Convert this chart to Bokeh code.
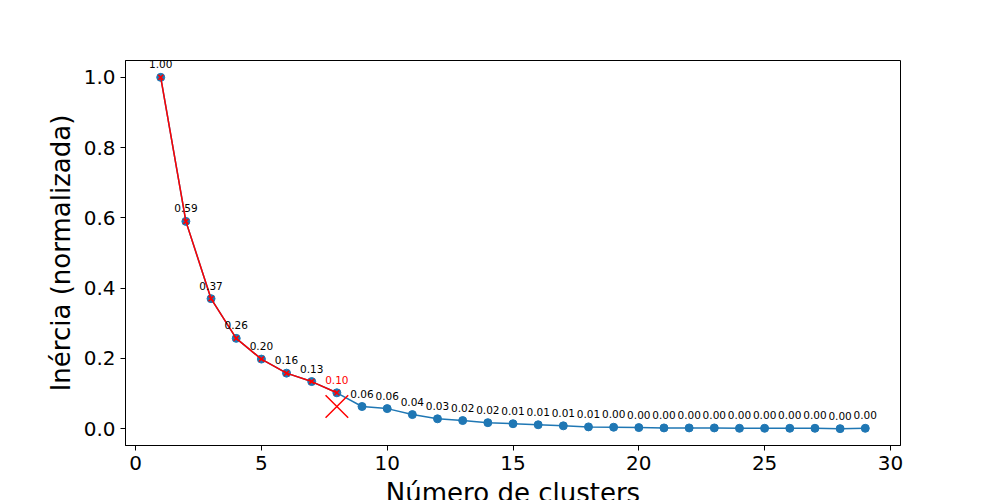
from bokeh.core.properties import value
from bokeh.embed import file_html
from bokeh.models import ColumnDataSource, Range1d, FixedTicker, PrintfTickFormatter
from bokeh.plotting import figure
from bokeh.resources import INLINE

# number of clusters and normalised inertia
clusters = list(range(1, 30))
inertia = [1.00, 0.59, 0.37, 0.257, 0.198, 0.158, 0.134, 0.102, 0.063, 0.057,
           0.040, 0.028, 0.023, 0.017, 0.014, 0.011, 0.008, 0.005, 0.004, 0.003,
           0.002, 0.002, 0.002, 0.001, 0.001, 0.001, 0.001, 0.000, 0.001]
elbow = 8

labels = [f"{v:.2f}" for v in inertia]
label_colors = ["red" if k == elbow else "black" for k in clusters]

p = figure(width=1000, height=515, output_backend="svg", toolbar_location=None,
           x_range=Range1d(-0.4, 30.4), y_range=Range1d(-0.048, 1.048),
           min_border_left=125, min_border_right=100, min_border_top=60,
           min_border_bottom=70)
p.background_fill_color = "white"
p.grid.visible = False
p.outline_line_color = "black"

# full curve
p.line(clusters, inertia, line_color="#1f77b4", line_width=1.5)
p.scatter(clusters, inertia, size=8, fill_color="#1f77b4", line_color="#1f77b4")

# curve up to the elbow
p.line(clusters[:elbow], inertia[:elbow], line_color="red", line_width=1.5)
p.scatter(clusters[:elbow], inertia[:elbow], marker="x", size=7, line_color="red", line_width=1.5)

# elbow marker
p.scatter([elbow], [inertia[elbow]], marker="x", size=32, line_color="red", line_width=1.5)

src = ColumnDataSource(dict(x=clusters, y=inertia, t=labels, c=label_colors))
p.text(x="x", y="y", text="t", source=src, text_color="c", y_offset=-9,
       text_align="center", text_baseline="bottom", text_font_size="10.5px",
       text_font=value("DejaVu Sans"))

p.xaxis.axis_label = "Número de clusters"
p.yaxis.axis_label = "Inércia (normalizada)"
p.xaxis.ticker = FixedTicker(ticks=[0, 5, 10, 15, 20, 25, 30])
p.yaxis.ticker = FixedTicker(ticks=[0.0, 0.2, 0.4, 0.6, 0.8, 1.0])
p.yaxis.formatter = PrintfTickFormatter(format="%.1f")
for ax in (p.xaxis, p.yaxis):
    ax.axis_label_text_font_size = "26px"
    ax.axis_label_text_font_style = "normal"
    ax.axis_label_text_color = "black"
    ax.major_label_text_font_size = "20px"
    ax.major_label_text_color = "black"
    ax.axis_label_text_font = "DejaVu Sans"
    ax.major_label_text_font = "DejaVu Sans"
    ax.minor_tick_line_color = None
    ax.major_tick_in = 0
    ax.major_tick_out = 5
    ax.axis_line_color = "black"
    ax.axis_label_standoff = 5

open("out.html", "w").write(file_html(p, INLINE))
